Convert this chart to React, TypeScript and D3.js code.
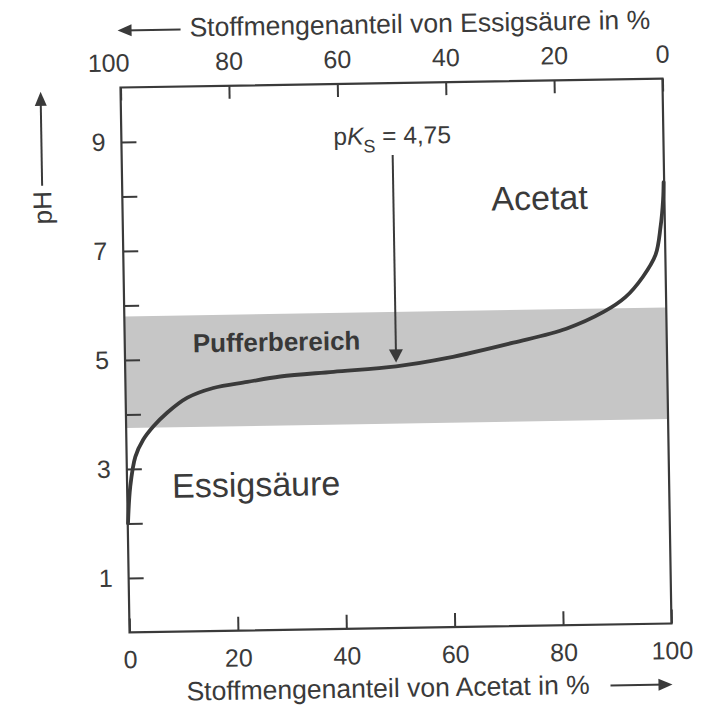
import React, { useEffect, useRef } from 'react';
import * as d3 from 'd3';

// Stoffmengenanteil Acetat (%) und pH
const acetatPct = [0.05, 0.57, 1.6, 3.1, 5.0, 7.6, 11.4, 16.2, 22.5, 28.6, 38.4, 50, 59.5, 71.7, 81.5, 88.5, 92.5, 95.8, 98.2, 99.2, 99.75, 99.9];
const phValues = [2.0, 2.67, 3.22, 3.53, 3.77, 4.02, 4.29, 4.46, 4.56, 4.65, 4.72, 4.8, 4.94, 5.2, 5.44, 5.74, 6.0, 6.37, 6.77, 7.28, 7.78, 8.1];

const bottomTicks = [0, 20, 40, 60, 80, 100];
const topTicks = [100, 80, 60, 40, 20, 0];
const phTicks = [1, 2, 3, 4, 5, 6, 7, 8, 9];
const phLabels = [1, 3, 5, 7, 9];
const bufferRange = [3.75, 5.8];
const pKsAcetat = 50;

const W = 714;
const H = 709;
const ink = '#3a3a3a';
const font = '"Liberation Sans", Arial, Helvetica, sans-serif';

const App = () => {
  const ref = useRef(null);

  useEffect(() => {
    const svg = d3.select(ref.current);
    svg.selectAll('*').remove();

    const box = { left: 125, right: 667, top: 83, bottom: 628 };

    const x = d3.scaleLinear().domain([0, 100]).range([box.left, box.right]);
    const xTop = d3.scaleLinear().domain([100, 0]).range([box.left, box.right]);
    const y = d3.scaleLinear().domain([0, 10]).range([box.bottom, box.top]);

    // the scan is slightly tilted
    const g = svg.append('g').attr('transform', 'rotate(-0.95 396 356)');

    const arrowHead = (tx, ty, dir, len = 14, half = 6) => {
      let pts;
      if (dir === 'left') pts = [[tx, ty], [tx + len, ty - half], [tx + len, ty + half]];
      else if (dir === 'right') pts = [[tx, ty], [tx - len, ty - half], [tx - len, ty + half]];
      else if (dir === 'up') pts = [[tx, ty], [tx - half, ty + len], [tx + half, ty + len]];
      else pts = [[tx, ty], [tx - half, ty - len], [tx + half, ty - len]];
      g.append('path')
        .attr('d', 'M' + pts.map(p => p.join(',')).join('L') + 'Z')
        .attr('fill', ink);
    };

    // Pufferbereich
    g.append('rect')
      .attr('x', box.left)
      .attr('y', y(bufferRange[1]))
      .attr('width', box.right - box.left)
      .attr('height', y(bufferRange[0]) - y(bufferRange[1]))
      .attr('fill', '#c6c6c6');

    // axes
    const styleAxis = (sel) => {
      sel.select('.domain').remove();
      sel.selectAll('.tick line').attr('stroke', ink).attr('stroke-width', 2);
      sel.selectAll('.tick text')
        .attr('fill', ink)
        .style('font-size', '25px')
        .style('font-family', font);
    };

    g.append('g')
      .attr('transform', `translate(${box.left},0)`)
      .call(d3.axisLeft(y).tickValues(phTicks).tickSize(-15).tickPadding(16)
        .tickFormat(d => (phLabels.includes(d) ? String(d) : '')))
      .call(styleAxis);

    const topAxis = g.append('g')
      .attr('transform', `translate(0,${box.top})`)
      .call(d3.axisTop(xTop).tickValues(topTicks).tickSize(-13).tickPadding(16))
      .call(styleAxis);
    // the "100" sits a little left of the corner in the original
    topAxis.selectAll('.tick text').filter(d => d === 100).attr('dx', -12);

    g.append('g')
      .attr('transform', `translate(0,${box.bottom})`)
      .call(d3.axisBottom(x).tickValues(bottomTicks).tickSize(-14).tickPadding(18))
      .call(styleAxis);

    // frame
    g.append('rect')
      .attr('x', box.left)
      .attr('y', box.top)
      .attr('width', box.right - box.left)
      .attr('height', box.bottom - box.top)
      .attr('fill', 'none')
      .attr('stroke', ink)
      .attr('stroke-width', 2.2);

    // titration curve
    const pts = acetatPct.map((a, i) => [a, phValues[i]]);
    const line = d3.line()
      .x(d => x(d[0]))
      .y(d => y(d[1]))
      .curve(d3.curveCatmullRom.alpha(0.5));

    g.append('path')
      .attr('d', line(pts))
      .attr('fill', 'none')
      .attr('stroke', ink)
      .attr('stroke-width', 3.8)
      .attr('stroke-linecap', 'round');

    // axis titles
    g.append('text')
      .attr('x', 195)
      .attr('y', 33)
      .attr('fill', ink)
      .style('font-family', font)
      .style('font-size', '26.5px')
      .text('Stoffmengenanteil von Essigsäure in %');
    g.append('line')
      .attr('x1', 128).attr('x2', 186)
      .attr('y1', 26).attr('y2', 26)
      .attr('stroke', ink).attr('stroke-width', 2);
    arrowHead(123, 26, 'left');

    g.append('text')
      .attr('x', 181)
      .attr('y', 697)
      .attr('fill', ink)
      .style('font-family', font)
      .style('font-size', '26.5px')
      .text('Stoffmengenanteil von Acetat in %');
    g.append('line')
      .attr('x1', 605).attr('x2', 662)
      .attr('y1', 689).attr('y2', 689)
      .attr('stroke', ink).attr('stroke-width', 2);
    arrowHead(667, 689, 'right');

    g.append('text')
      .attr('transform', 'translate(54,202) rotate(-90)')
      .attr('text-anchor', 'middle')
      .attr('fill', ink)
      .style('font-family', font)
      .style('font-size', '26px')
      .text('pH');
    g.append('line')
      .attr('x1', 45).attr('x2', 45)
      .attr('y1', 180).attr('y2', 96)
      .attr('stroke', ink).attr('stroke-width', 2);
    arrowHead(45, 86, 'up');

    // region labels
    g.append('text')
      .attr('x', 494)
      .attr('y', 212)
      .attr('fill', ink)
      .style('font-family', font)
      .style('font-size', '34px')
      .text('Acetat');

    g.append('text')
      .attr('x', 170)
      .attr('y', 494)
      .attr('fill', ink)
      .style('font-family', font)
      .style('font-size', '34px')
      .text('Essigsäure');

    g.append('text')
      .attr('x', 193)
      .attr('y', 349)
      .attr('fill', '#383838')
      .style('font-family', font)
      .style('font-size', '26px')
      .style('font-weight', 'bold')
      .text('Pufferbereich');

    // pKS annotation
    const pk = g.append('text')
      .attr('x', 337)
      .attr('y', 144)
      .attr('fill', ink)
      .style('font-family', font)
      .style('font-size', '24.5px');
    pk.append('tspan').text('p');
    pk.append('tspan').style('font-style', 'italic').text('K');
    pk.append('tspan').attr('dy', 8).style('font-size', '18px').text('S');
    pk.append('tspan').attr('dy', -8).text(' = 4,75');

    const idx = acetatPct.indexOf(pKsAcetat);
    const tipY = y(phValues[idx]) - 4;
    g.append('line')
      .attr('x1', x(pKsAcetat)).attr('x2', x(pKsAcetat))
      .attr('y1', 155).attr('y2', tipY - 10)
      .attr('stroke', ink).attr('stroke-width', 2);
    arrowHead(x(pKsAcetat), tipY, 'down', 13, 7);
  }, []);

  return (
    <svg
      ref={ref}
      width={W}
      height={H}
      style={{ position: 'absolute', left: 0, top: 0, background: '#fff' }}
    />
  );
};

export default App;
